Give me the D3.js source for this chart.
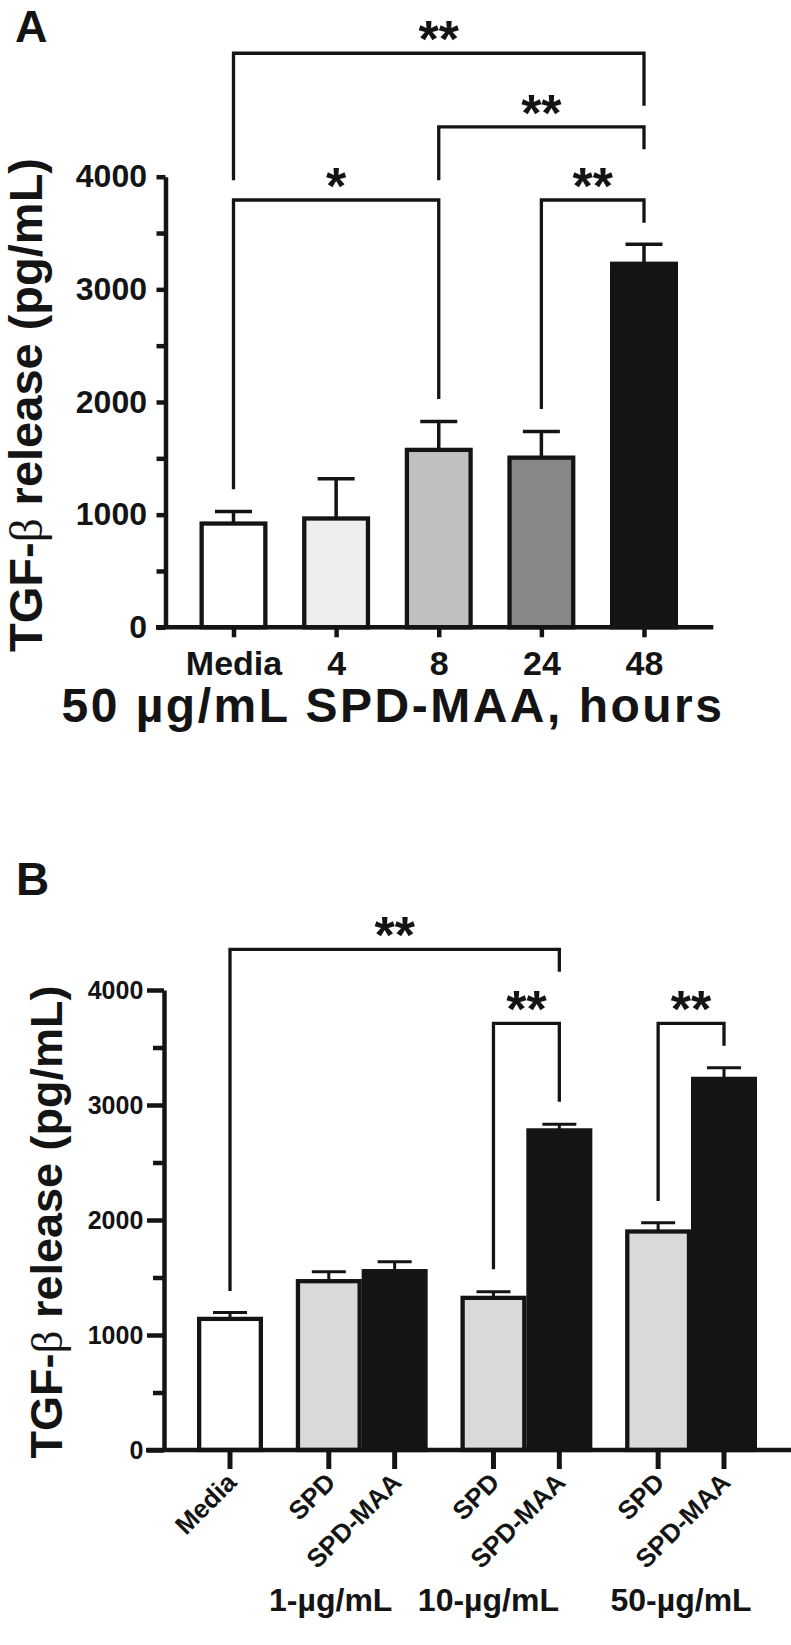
<!DOCTYPE html>
<html>
<head>
<meta charset="utf-8">
<script src="https://cdn.jsdelivr.net/npm/d3@7/dist/d3.min.js"></script>
<style>
    body { margin: 0; background: #fff; }
    #chart { position: relative; width: 791px; height: 1645px; }
    svg { display: block; font-family: "Liberation Sans", Arial, sans-serif; font-weight: bold; }
    .xlab { position: absolute; width: 0; height: 0; transform: rotate(-45deg); transform-origin: 0 0; }
    .xlab span {
        position: absolute; right: 0; bottom: -4px;
        font: bold 26px/26px "Liberation Sans", Arial, sans-serif;
        white-space: nowrap; color: #141414;
    }
</style>
</head>
<body>
<div id="chart"></div>
<script>
// ---- panel A: 50 ug/mL SPD-MAA, time course ----
const hourCats = ['Media', '4', '8', '24', '48'];
const hourMean = [921, 966, 1575, 1506, 3227];
const hourSem = [108, 352, 253, 233, 174];

// ---- panel B: dose response ----
const doseGroups = ['1-µg/mL', '10-µg/mL', '50-µg/mL'];
const doseSeries = ['SPD', 'SPD-MAA'];
const mediaMeanB = 1140;
const mediaSemB = 56;
const spdMean = [1468, 1323, 1900];
const spdSem = [82, 54, 77];
const maaMean = [1555, 2779, 3227];
const maaSem = [82, 53, 97];

// y ticks (both panels)
const yMajor = [0, 1000, 2000, 3000, 4000];
const yMinor = [500, 1500, 2500, 3500];

// significance brackets, levels and leg ends in pg/mL
const sigA = [
    { a: 'Media', b: '8', level: 3793, endA: 1225, endB: 2026, label: '*' },
    { a: '24', b: '48', level: 3793, endA: 1937, endB: 3591, label: '**' },
    { a: '8', b: '48', level: 4443, endA: 3968, endB: 4244, label: '**' },
    { a: 'Media', b: '48', level: 5096, endA: 3968, endB: 4630, label: '**' },
];
const sigB = [
    { a: 'Media', b: '10-µg/mL|SPD-MAA', level: 4354, endA: 1383, endB: 4159, label: '**' },
    { a: '10-µg/mL|SPD', b: '10-µg/mL|SPD-MAA', level: 3710, endA: 1571, endB: 3029, label: '**' },
    { a: '50-µg/mL|SPD', b: '50-µg/mL|SPD-MAA', level: 3710, endA: 2165, endB: 3516, label: '**' },
];

/**
 * styles
 */
const INK = '#141414';
const FILL_A = ['#ffffff', '#eeeeee', '#c0c0c2', '#878787', INK];
const FILL_B = { Media: '#ffffff', SPD: '#d9d9d9', 'SPD-MAA': INK };
const AXIS_W = 4.5;
const BAR_SW = 4.3;
const LINE_W = 3.3;
const STAR_FS = 52;
// group labels in B don't sit exactly under the pair centre
const GROUP_SHIFT = [-31, -38, -10];

const chart = d3.select('#chart');
const svg = chart
    .append('svg')
    .attr('width', 791)
    .attr('height', 1645);

svg.append('rect').attr('width', 791).attr('height', 1645).attr('fill', '#fff');

function yAxis(g, y, x0, majorLen, minorLen, pad, fs) {
    const major = g.append('g')
        .attr('transform', `translate(${x0},0)`)
        .call(d3.axisLeft(y)
            .tickValues(yMajor)
            .tickFormat(d3.format('d'))
            .tickSize(majorLen)
            .tickSizeOuter(0)
            .tickPadding(pad));
    major.select('.domain').attr('stroke', INK).attr('stroke-width', AXIS_W);
    major.selectAll('.tick line').attr('stroke', INK).attr('stroke-width', AXIS_W);
    major.selectAll('.tick text')
        .attr('fill', INK)
        .style('font-size', `${fs}px`)
        .style('font-family', '"Liberation Sans", Arial, sans-serif')
        .style('font-weight', 'bold');

    const minor = g.append('g')
        .attr('transform', `translate(${x0},0)`)
        .call(d3.axisLeft(y).tickValues(yMinor).tickSize(minorLen).tickFormat(() => ''));
    minor.select('.domain').remove();
    minor.selectAll('.tick line').attr('stroke', INK).attr('stroke-width', AXIS_W);
}

function bar(g, cx, w, yTop, yBase, fill) {
    g.append('rect')
        .attr('x', cx - w / 2 + BAR_SW / 2)
        .attr('y', yTop)
        .attr('width', w - BAR_SW)
        .attr('height', yBase - yTop)
        .attr('fill', fill)
        .attr('stroke', INK)
        .attr('stroke-width', BAR_SW);
}

function errBar(g, cx, capW, yTop, yErr, sw) {
    g.append('path')
        .attr('d', `M${cx},${yTop}V${yErr}M${cx - capW / 2},${yErr}H${cx + capW / 2}`)
        .attr('stroke', INK)
        .attr('stroke-width', sw)
        .attr('fill', 'none');
}

function bracket(g, xa, xb, y, s) {
    g.append('path')
        .attr('d', `M${xa},${y(s.endA)}V${y(s.level)}H${xb}V${y(s.endB)}`)
        .attr('stroke', INK)
        .attr('stroke-width', LINE_W)
        .attr('fill', 'none');
    g.append('text')
        .attr('x', (xa + xb) / 2)
        .attr('y', y(s.level) - 25 + 0.56 * STAR_FS)
        .attr('text-anchor', 'middle')
        .attr('fill', INK)
        .style('font-size', `${STAR_FS}px`)
        .text(s.label);
}

function yLabel(g, x, cy, fs) {
    const t = g.append('text')
        .attr('transform', `translate(${x},${cy}) rotate(-90)`)
        .attr('text-anchor', 'middle')
        .attr('fill', INK)
        .style('font-size', `${fs}px`);
    t.append('tspan').text('TGF-');
    t.append('tspan')
        .style('font-family', '"Liberation Serif", "DejaVu Serif", serif')
        .style('font-weight', 'normal')
        .text('β');
    t.append('tspan').text(' release (pg/mL)');
}

/**
 * Panel A
 */
const gA = svg.append('g');
const yA = d3.scaleLinear().domain([0, 4000]).range([627.3, 176.7]);
const xA = d3.scalePoint().domain(hourCats).range([233.5, 644]);

gA.append('text')
    .attr('x', 15).attr('y', 42)
    .attr('fill', INK)
    .style('font-size', '45px')
    .text('A');

hourCats.forEach((c, i) => {
    errBar(gA, xA(c), 37, yA(hourMean[i]), yA(hourMean[i] + hourSem[i]), 3.5);
    bar(gA, xA(c), 68, yA(hourMean[i]), yA(0), FILL_A[i]);
});

yAxis(gA, yA, 165.5, 9, 9, 9.5, 32);

// x axis
gA.append('line')
    .attr('x1', 156).attr('x2', 713.3)
    .attr('y1', yA(0)).attr('y2', yA(0))
    .attr('stroke', INK).attr('stroke-width', AXIS_W);
const xAxA = gA.append('g')
    .attr('transform', `translate(0,${yA(0)})`)
    .call(d3.axisBottom(xA).tickSize(10).tickSizeOuter(0).tickPadding(14));
xAxA.select('.domain').remove();
xAxA.selectAll('.tick line').attr('stroke', INK).attr('stroke-width', AXIS_W);
xAxA.selectAll('.tick text')
    .attr('fill', INK)
    .style('font-size', '34px')
    .style('font-family', '"Liberation Sans", Arial, sans-serif')
    .style('font-weight', 'bold');

sigA.forEach(s => bracket(gA, xA(s.a), xA(s.b), yA, s));

yLabel(gA, 42, 405, 47);

gA.append('text')
    .attr('x', 393).attr('y', 722)
    .attr('text-anchor', 'middle')
    .attr('fill', INK)
    .style('font-size', '48px')
    .style('letter-spacing', '2.5px')
    .text('50 µg/mL SPD-MAA, hours');

/**
 * Panel B
 */
const gB = svg.append('g');
const yB = d3.scaleLinear().domain([0, 4000]).range([1450, 990]);

// slot index: Media first, then SPD / SPD-MAA pairs with a half-slot gap
const barsB = [{ key: 'Media', label: 'Media', series: 'Media', slot: 0, mean: mediaMeanB, sem: mediaSemB }];
doseGroups.forEach((grp, gi) => {
    doseSeries.forEach((ser, si) => {
        barsB.push({
            key: `${grp}|${ser}`,
            label: ser,
            series: ser,
            group: grp,
            slot: 1.5 + gi * 2.5 + si,
            mean: si === 0 ? spdMean[gi] : maaMean[gi],
            sem: si === 0 ? spdSem[gi] : maaSem[gi],
        });
    });
});
const xB = d3.scaleLinear().domain([0, 7.5]).range([230, 724]);
const slotOf = key => barsB.find(b => b.key === key).slot;

gB.append('text')
    .attr('x', 16).attr('y', 895)
    .attr('fill', INK)
    .style('font-size', '46px')
    .text('B');

barsB.forEach((b) => {
    errBar(gB, xB(b.slot), 34, yB(b.mean), yB(b.mean + b.sem), 3);
    bar(gB, xB(b.slot), 66, yB(b.mean), yB(0), FILL_B[b.series]);
});

yAxis(gB, yB, 164, 17, 11, 3.7, 25);

gB.append('line')
    .attr('x1', 146).attr('x2', 791)
    .attr('y1', yB(0)).attr('y2', yB(0))
    .attr('stroke', INK).attr('stroke-width', AXIS_W);

gB.selectAll('line.xtick')
    .data(barsB)
    .enter()
    .append('line')
    .attr('class', 'xtick')
    .attr('x1', d => xB(d.slot)).attr('x2', d => xB(d.slot))
    .attr('y1', yB(0)).attr('y2', yB(0) + 19)
    .attr('stroke', INK)
    .attr('stroke-width', 5);

// slanted tick labels: html overlay, rotated about the end of the baseline
const LAB_DX = 8;
const LAB_DY = 34;
chart.selectAll('div.xlab')
    .data(barsB)
    .enter()
    .append('div')
    .attr('class', 'xlab')
    .style('left', d => `${xB(d.slot) + LAB_DX}px`)
    .style('top', `${yB(0) + LAB_DY}px`)
    .append('span')
    .text(d => d.label);

doseGroups.forEach((grp, gi) => {
    const cx = (xB(slotOf(`${grp}|SPD`)) + xB(slotOf(`${grp}|SPD-MAA`))) / 2;
    gB.append('text')
        .attr('x', cx + GROUP_SHIFT[gi]).attr('y', 1611)
        .attr('text-anchor', 'middle')
        .attr('fill', INK)
        .style('font-size', '32px')
        .text(grp);
});

sigB.forEach(s => bracket(gB, xB(slotOf(s.a)), xB(slotOf(s.b)), yB, s));

yLabel(gB, 62, 1222, 45);
</script>
</body>
</html>
